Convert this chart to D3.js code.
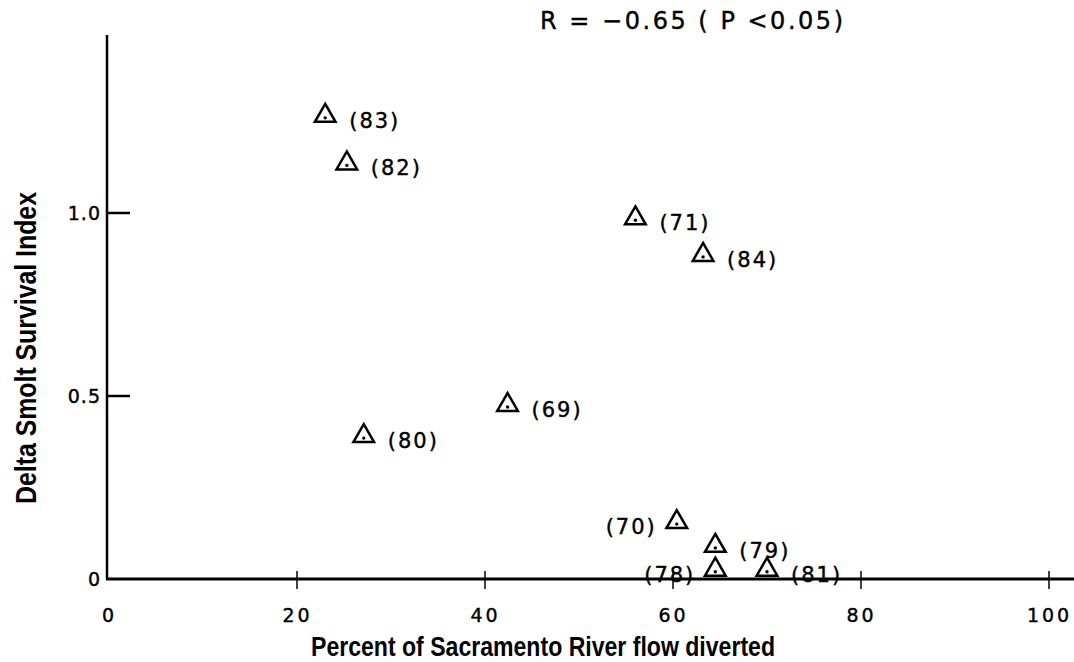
<!DOCTYPE html>
<html><head><meta charset="utf-8">
<script src="https://cdn.jsdelivr.net/npm/d3@7"></script>
<style>
body{margin:0;background:#fff;}
svg{display:block;}
.lbl{font-family:"DejaVu Sans","Liberation Sans",sans-serif;font-size:21px;fill:#000;stroke:#000;stroke-width:0.4px;letter-spacing:2px;}
.tick text{font-family:"DejaVu Sans","Liberation Sans",sans-serif;font-size:19px;fill:#000;stroke:#000;stroke-width:0.4px;letter-spacing:3px;}
.yax .tick text{letter-spacing:1px;}
.title{font-family:"Liberation Sans","Arial",sans-serif;font-weight:bold;fill:#000;}
</style></head>
<body>
<script>
// Data
const years = ["83","82","71","84","69","80","70","79","78","81"];
const percentDiverted = [23.0, 25.3, 56.0, 63.2, 42.4, 27.1, 60.4, 64.5, 64.5, 70.0];
const survivalIndex = [1.26, 1.13, 0.98, 0.88, 0.47, 0.385, 0.15, 0.085, 0.02, 0.02];
const labelSide = ["r","r","r","r","r","r","l","r","l","r"];
const xTicks = [0, 20, 40, 60, 80, 100];
const yTicks = [0, 0.5, 1.0];
const yTickLabels = ["0", "0.5", "1.0"];
const statText = "R = \u22120.65 ( P <0.05)";

const W = 1074, H = 662;
const svg = d3.select("body").append("svg").attr("width", W).attr("height", H);

const x = d3.scaleLinear().domain([0, 100]).range([109, 1049]);
const y = d3.scaleLinear().domain([0, 1]).range([579, 213]);

// x axis
const xAxis = svg.append("g").attr("transform", `translate(0,${y(0)})`)
  .call(d3.axisBottom(x).tickValues(xTicks).tickSize(0).tickPadding(30).tickFormat(d3.format("d")));
xAxis.select(".domain").remove();
svg.append("line").attr("x1", 106).attr("x2", W).attr("y1", y(0)).attr("y2", y(0))
  .attr("stroke", "#000").attr("stroke-width", 3);
svg.selectAll(".xt").data(xTicks.slice(1)).join("line")
  .attr("x1", d => x(d)).attr("x2", d => x(d))
  .attr("y1", y(0) - 8).attr("y2", y(0) + 10)
  .attr("stroke", "#000").attr("stroke-width", 1.5);
xAxis.selectAll(".tick text").attr("dy", "0.71em");

// y axis
const yAxis = svg.append("g").attr("class", "yax").attr("transform", `translate(${x(0) - 2},0)`)
  .call(d3.axisLeft(y).tickValues(yTicks).tickSize(0).tickPadding(6)
    .tickFormat((d, i) => yTickLabels[i]));
yAxis.select(".domain").remove();
svg.append("line").attr("x1", x(0) - 2).attr("x2", x(0) - 2).attr("y1", 35).attr("y2", y(0))
  .attr("stroke", "#000").attr("stroke-width", 2.5);
svg.selectAll(".yt").data(yTicks.slice(1)).join("line")
  .attr("x1", x(0) - 1).attr("x2", x(0) + 21)
  .attr("y1", d => y(d)).attr("y2", d => y(d))
  .attr("stroke", "#000").attr("stroke-width", 2.5);

// axis titles
svg.append("text").attr("class", "title").attr("x", 543).attr("y", 656)
  .style("font-size", "27px")
  .attr("textLength", 464).attr("lengthAdjust", "spacingAndGlyphs")
  .attr("text-anchor", "middle").text("Percent of Sacramento River flow diverted");
svg.append("text").attr("class", "title")
  .style("font-size", "29px")
  .attr("textLength", 312).attr("lengthAdjust", "spacingAndGlyphs")
  .attr("transform", `translate(36,348) rotate(-90)`)
  .attr("text-anchor", "middle").text("Delta Smolt Survival Index");

// stat annotation
svg.append("text").attr("class", "lbl").attr("x", 540).attr("y", 29)
  .style("font-size", "24px").style("letter-spacing", "1px")
  .attr("textLength", 304).attr("lengthAdjust", "spacing")
  .text(statText);

// points
const data = years.map((yr, i) => ({yr, px: percentDiverted[i], sv: survivalIndex[i], side: labelSide[i]}));
const tri = d3.symbol().type(d3.symbolTriangle).size(185);
const g = svg.append("g");
g.selectAll("path.pt").data(data).join("path")
  .attr("class", "pt")
  .attr("transform", d => `translate(${x(d.px)},${y(d.sv) - 2})`)
  .attr("d", tri).attr("fill", "none").attr("stroke", "#000").attr("stroke-width", 2.5);
g.selectAll("circle.dot").data(data).join("circle")
  .attr("cx", d => x(d.px)).attr("cy", d => y(d.sv))
  .attr("r", 1.7).attr("fill", "#000");
g.selectAll("text.pl").data(data).join("text")
  .attr("class", "lbl")
  .attr("x", d => d.side === "r" ? x(d.px) + 24 : x(d.px) - 20)
  .attr("y", d => y(d.sv) + 10)
  .attr("text-anchor", d => d.side === "r" ? "start" : "end")
  .text(d => `(${d.yr})`);
</script>
</body></html>
